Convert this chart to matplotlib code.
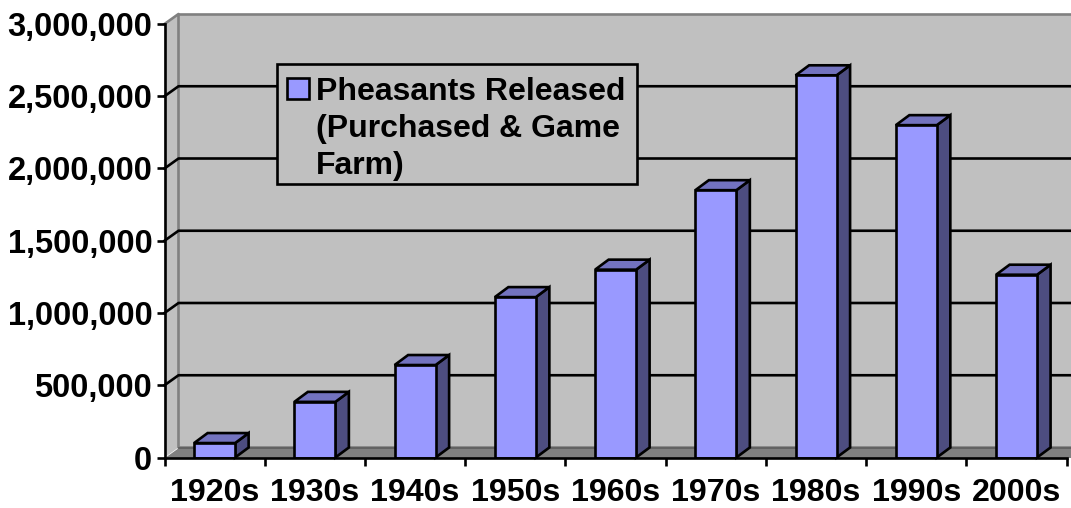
import matplotlib
matplotlib.use("Agg")
import matplotlib.pyplot as plt
from matplotlib.patches import Polygon, Rectangle

plt.rcParams['font.family'] = ['Liberation Sans', 'DejaVu Sans']

decades = ["1920s", "1930s", "1940s", "1950s", "1960s", "1970s", "1980s", "1990s", "2000s"]
released = [100000, 385000, 640000, 1110000, 1300000, 1850000, 2645000, 2300000, 1265000]
y_ticks = [0, 500000, 1000000, 1500000, 2000000, 2500000, 3000000]
legend_label = "Pheasants Released\n(Purchased & Game\nFarm)"

W, H = 1071, 508
LEFT, RIGHT, TOP, BOTTOM = 164.5, 1066.7, 24, 457.5
LW = 1.9

fig = plt.figure(figsize=(W / 100, H / 100), dpi=100)
ax = fig.add_axes([LEFT / W, (H - BOTTOM) / H, (RIGHT - LEFT) / W, (BOTTOM - TOP) / H])
ax.set_xlim(0, len(decades))
ax.set_ylim(0, 3000000)
ax.patch.set_visible(False)

# depth of the fake 3d box, pixels turned into data units
px_x = len(decades) / (RIGHT - LEFT)
px_y = 3000000 / (BOTTOM - TOP)
dx = 14 * px_x
dy = 10 * px_y
x_end = len(decades) + 1


def poly(points, face, edge="none", lw=0, z=1):
    ax.add_patch(Polygon(points, closed=True, facecolor=face, edgecolor=edge,
                         linewidth=lw, zorder=z, clip_on=False, joinstyle="miter"))


def legend_rect(x0, y0, x1, y1, face):
    # pixel box measured from the top left of the picture
    fig.add_artist(Rectangle((x0 / W, 1 - y1 / H), (x1 - x0) / W, (y1 - y0) / H,
                             transform=fig.transFigure, facecolor=face, edgecolor="black",
                             linewidth=LW, zorder=5))


# walls and floor
poly([(dx, dy), (x_end, dy), (x_end, 3000000 + dy), (dx, 3000000 + dy)], "#c0c0c0", z=0)
poly([(0, 0), (dx, dy), (dx, 3000000 + dy), (0, 3000000)], "#c0c0c0", z=0)
poly([(0, 0), (x_end, 0), (x_end, dy), (dx, dy)], "#808080", z=1.5)
ax.plot([0, dx, dx, x_end], [3000000, 3000000 + dy, dy, dy], color="#808080", lw=LW, zorder=1.2, clip_on=False)
ax.plot([dx, x_end], [3000000 + dy, 3000000 + dy], color="#808080", lw=LW, zorder=1.2, clip_on=False)
ax.plot([dx, x_end], [dy, dy], color="#5c5c5c", lw=1.2, zorder=1.6, clip_on=False)

# gridlines run over the side wall and along the back
for v in y_ticks[1:-1]:
    ax.plot([0, dx, x_end], [v, v + dy, v + dy], color="black", lw=LW, zorder=1.3, clip_on=False)

# bars
centers = [i + 0.5 for i in range(len(decades))]
bar_w = 41 * px_x
bar_dx = 13.5 * px_x
bar_dy = 10 * px_y
ax.bar(centers, released, width=bar_w, color="#9999ff", edgecolor="black", linewidth=LW, zorder=3)
for c, v in zip(centers, released):
    l, r = c - bar_w / 2, c + bar_w / 2
    poly([(r, 0), (r + bar_dx, bar_dy), (r + bar_dx, v + bar_dy), (r, v)], "#4d4d80", "black", LW, 2.8)
    poly([(l, v), (r, v), (r + bar_dx, v + bar_dy), (l + bar_dx, v + bar_dy)], "#7373bf", "black", LW, 2.8)

# axes
for s in ["top", "right"]:
    ax.spines[s].set_visible(False)
for s in ["left", "bottom"]:
    ax.spines[s].set_linewidth(LW)
    ax.spines[s].set_zorder(4)

ax.set_yticks(y_ticks)
ax.set_yticklabels([f"{v:,}" for v in y_ticks], fontsize=23.5, fontweight="bold")
ax.set_xticks(range(len(decades) + 1))
ax.set_xticklabels([])
ax.set_xticks(centers, minor=True)
ax.set_xticklabels(decades, minor=True, fontsize=23.1, fontweight="bold")
ax.tick_params(axis="both", which="major", length=5.8, width=LW)
ax.tick_params(axis="y", pad=3)
ax.tick_params(axis="x", which="minor", length=0, pad=15)

# legend box drawn by hand, the label wraps and the swatch stays on the first line
legend_rect(277, 64, 637, 184, "#c0c0c0")
legend_rect(287, 78, 309, 99, "#9999ff")
fig.text(316 / W, 1 - 77 / H, legend_label, fontsize=23, fontweight="bold", va="top", ha="left",
         linespacing=1.31, zorder=6)

fig.savefig("out.png", dpi=100, facecolor="white")
